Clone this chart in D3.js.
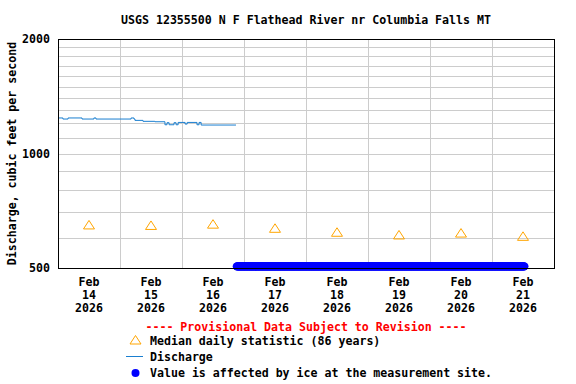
<!DOCTYPE html>
<html>
<head>
<meta charset="utf-8">
<script src="https://cdn.jsdelivr.net/npm/d3@7"></script>
<style>
  body { margin: 0; background: #fff; }
  text { font-family: "DejaVu Sans Mono", monospace; font-weight: bold; font-size: 11.6px; }
</style>
</head>
<body>
<svg id="chart" width="576" height="384"></svg>
<script>
'use strict'

const title = "USGS 12355500 N F Flathead River nr Columbia Falls MT"
const yLabel = "Discharge, cubic feet per second"

// days on the x axis (labels sit at noon)
const days = ["2026-02-14", "2026-02-15", "2026-02-16", "2026-02-17",
              "2026-02-18", "2026-02-19", "2026-02-20", "2026-02-21"]
const medianValues = [645, 643, 648, 632, 617, 607, 614, 602]

// discharge, hours since Feb 14 00:00 and cfs (step line)
const dischargeHours = [0, 1.9, 3.9, 9.3, 13.9, 14.7, 28.3, 29.4, 29.8, 32.9, 37.5,
                        41.4, 42.2, 43.0, 44.9, 45.7, 46.5, 49.2, 50.0, 53.8, 54.6, 55.4, 68.9]
const dischargeValues = [1240, 1232, 1240, 1232, 1240, 1232, 1240, 1232, 1222, 1215, 1212,
                         1190, 1205, 1190, 1205, 1190, 1207, 1195, 1207, 1190, 1207, 1188, 1188]

// ice-affected period, plotted on the axis floor
const iceStart = "2026-02-16T21:15:00Z"
const iceEnd = "2026-02-21T12:45:00Z"
const iceValue = 505

const yTicks = [500, 1000, 2000]
const yGrid = [600, 700, 800, 900, 1000, 1100, 1200, 1300, 1400, 1500, 1600, 1700, 1800, 1900]

const margin = {left: 58, right: 22, top: 39, bottom: 116}
const width = 576, height = 384

const svg = d3.select('#chart')

const t0 = new Date(days[0] + "T00:00:00Z")
const t1 = d3.utcDay.offset(new Date(days[days.length - 1] + "T00:00:00Z"), 1)

const x = d3.scaleUtc()
  .domain([t0, t1])
  .range([margin.left, width - margin.right])

const y = d3.scaleLog()
  .domain([500, 2000])
  .range([height - margin.bottom, margin.top])

// grid
svg.append("g").selectAll("line")
  .data(yGrid)
  .join("line")
  .attr("x1", margin.left).attr("x2", width - margin.right)
  .attr("y1", d => Math.round(y(d)) + 0.5).attr("y2", d => Math.round(y(d)) + 0.5)
  .style("stroke", "#cccccc").style("stroke-width", 1)

svg.append("g").selectAll("line")
  .data(d3.utcDay.range(d3.utcDay.offset(t0, 1), t1))
  .join("line")
  .attr("x1", d => Math.round(x(d)) + 0.5).attr("x2", d => Math.round(x(d)) + 0.5)
  .attr("y1", margin.top).attr("y2", height - margin.bottom)
  .style("stroke", "#cccccc").style("stroke-width", 1)

// discharge line
const dischargeData = dischargeHours.map((h, i) => ({t: d3.utcMinute.offset(t0, Math.round(h * 60)), v: dischargeValues[i]}))
svg.append("path")
  .datum(dischargeData)
  .attr("d", d3.line().x(d => x(d.t)).y(d => y(d.v)).curve(d3.curveStepAfter))
  .style("fill", "none").style("stroke", "#1a7fd0").style("stroke-width", 1)

// median triangles
const tri = "M0,-5.5L5.5,3L-5.5,3Z"
svg.append("g").selectAll("path")
  .data(days.map((d, i) => ({t: d3.utcHour.offset(new Date(d + "T00:00:00Z"), 12), v: medianValues[i]})))
  .join("path")
  .attr("d", tri)
  .attr("transform", d => `translate(${x(d.t)},${y(d.v)})`)
  .style("fill", "none").style("stroke", "#ffa500").style("stroke-width", 1)

// ice points
const iceTimes = d3.utcMinute.every(15).range(new Date(iceStart), new Date(iceEnd))
svg.append("g").selectAll("circle")
  .data(iceTimes)
  .join("circle")
  .attr("cx", d => x(d)).attr("cy", y(iceValue)).attr("r", 4.2)
  .style("fill", "#0000ff")

// frame
svg.append("rect")
  .attr("x", margin.left + 0.5).attr("y", margin.top + 0.5)
  .attr("width", width - margin.left - margin.right)
  .attr("height", height - margin.top - margin.bottom)
  .style("fill", "none").style("stroke", "#000").style("stroke-width", 1)

// y tick labels
svg.append("g").selectAll("text")
  .data(yTicks)
  .join("text")
  .attr("x", margin.left - 8).attr("y", d => y(d) + 4)
  .attr("text-anchor", "end")
  .text(d => d)

// x tick labels
const fmtMon = d3.utcFormat("%b"), fmtDay = d3.utcFormat("%d"), fmtYear = d3.utcFormat("%Y")
const xl = svg.append("g").selectAll("text")
  .data(days.map(d => d3.utcHour.offset(new Date(d + "T00:00:00Z"), 12)))
  .join("text")
  .attr("x", d => x(d)).attr("y", 286)
  .attr("text-anchor", "middle")
xl.append("tspan").attr("x", d => x(d)).attr("dy", 0).text(d => fmtMon(d))
xl.append("tspan").attr("x", d => x(d)).attr("dy", 13).text(d => fmtDay(d))
xl.append("tspan").attr("x", d => x(d)).attr("dy", 13).text(d => fmtYear(d))

// title
svg.append("text")
  .attr("x", 306).attr("y", 24)
  .attr("text-anchor", "middle")
  .text(title)

// y label
svg.append("text")
  .attr("transform", `translate(16,${(margin.top + height - margin.bottom) / 2}) rotate(-90)`)
  .attr("text-anchor", "middle")
  .text(yLabel)

// legend
svg.append("text")
  .attr("x", 306).attr("y", 331)
  .attr("text-anchor", "middle")
  .style("fill", "#ff0000")
  .text("---- Provisional Data Subject to Revision ----")

svg.append("path").attr("d", tri)
  .attr("transform", "translate(135.5,341)")
  .style("fill", "none").style("stroke", "#ffa500")
svg.append("text").attr("x", 150).attr("y", 345).text("Median daily statistic (86 years)")

svg.append("line").attr("x1", 126).attr("x2", 143).attr("y1", 356.5).attr("y2", 356.5)
  .style("stroke", "#1a7fd0")
svg.append("text").attr("x", 150).attr("y", 361).text("Discharge")

svg.append("circle").attr("cx", 135.5).attr("cy", 373).attr("r", 4).style("fill", "#0000ff")
svg.append("text").attr("x", 150).attr("y", 377).text("Value is affected by ice at the measurement site.")
</script>
</body>
</html>
